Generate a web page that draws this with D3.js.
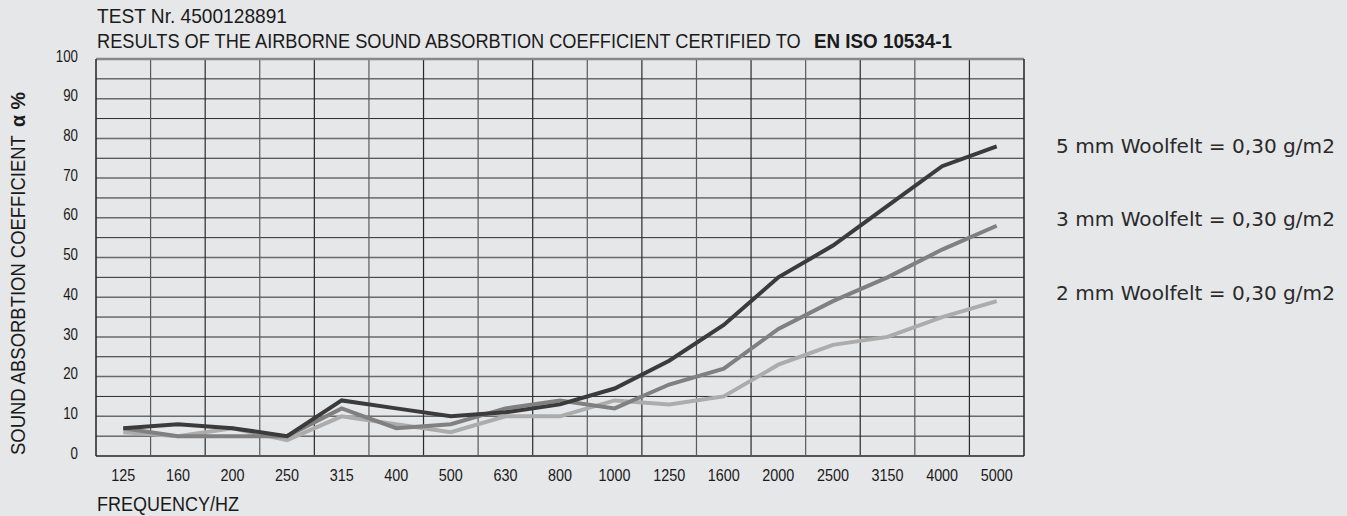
<!DOCTYPE html>
<html>
<head>
<meta charset="utf-8">
<script src="https://cdn.jsdelivr.net/npm/d3@7"></script>
<style>
  html, body { margin: 0; padding: 0; background: #e6e7e9; }
  svg { display: block; }
  .cond { font-family: 'Liberation Sans', Arial, sans-serif; fill: #1a1a1a; }
</style>
</head>
<body>
<script>
var freqs = ['125', '160', '200', '250', '315', '400', '500', '630', '800', '1000', '1250', '1600', '2000', '2500', '3150', '4000', '5000']
var yTicks = [0, 10, 20, 30, 40, 50, 60, 70, 80, 90, 100]

var felt5 = [7, 8, 7, 5, 14, 12, 10, 11, 13, 17, 24, 33, 45, 53, 63, 73, 78]
var felt3 = [7, 5, 5, 5, 12, 7, 8, 12, 14, 12, 18, 22, 32, 39, 45, 52, 58]
var felt2 = [6, 5, 7, 4, 10, 8, 6, 10, 10, 14, 13, 15, 23, 28, 30, 35, 39]

var seriesNames = ['5 mm Woolfelt = 0,30 g/m2', '3 mm Woolfelt = 0,30 g/m2', '2 mm Woolfelt = 0,30 g/m2']

var width = 1347, height = 516
var margin = {left: 96, top: 59, right: 323, bottom: 60}

var svg = d3.select('body').append('svg')
  .attr('width', width).attr('height', height)

var x = d3.scaleBand().domain(freqs).range([margin.left, width - margin.right]).padding(0)
var y = d3.scaleLinear().domain([0, 100]).range([height - margin.bottom, margin.top])

// place a text at (px, py) and squeeze it horizontally to width w (the original uses a condensed face)
function label(parent, px, py, w, txt, size, opts){
  opts = opts || {}
  var t = parent.append('text').attr('class', 'cond')
    .attr('text-anchor', opts.anchor || 'start')
    .attr('dy', opts.dy || null)
    .style('font-size', size + 'px')
    .style('font-weight', opts.bold ? 'bold' : null)
    .text(txt)
  if (opts.family) t.style('font-family', opts.family)
  if (opts.fill) t.style('fill', opts.fill)
  var nat = t.node().getComputedTextLength()
  t.attr('transform', 'translate(' + px + ',' + py + ') scale(' + (w / nat) + ',1)')
  return t
}

// grid
var grid = svg.append('g')
grid.selectAll('line.h').data(d3.range(5, 100, 5)).enter().append('line')
  .attr('x1', x.range()[0]).attr('x2', x.range()[1])
  .attr('y1', function(d){ return y(d) }).attr('y2', function(d){ return y(d) })
  .style('stroke', function(d){ return d % 10 ? '#2a2a2a' : '#6a6a6a' })
  .style('stroke-width', function(d){ return d % 10 ? 1 : 1.5 })

grid.selectAll('line.v').data(freqs.slice(1)).enter().append('line')
  .attr('x1', function(d){ return x(d) }).attr('x2', function(d){ return x(d) })
  .attr('y1', y(0)).attr('y2', y(100))
  .style('stroke', function(d, i){ return i % 2 ? '#2a2a2a' : '#5a5a5a' })
  .style('stroke-width', 1.2)

// frame
svg.append('line').attr('x1', x.range()[0]).attr('x2', x.range()[1]).attr('y1', y(100)).attr('y2', y(100))
  .style('stroke', '#888').style('stroke-width', 2.5)
svg.append('line').attr('x1', x.range()[0]).attr('x2', x.range()[1]).attr('y1', y(0)).attr('y2', y(0))
  .style('stroke', '#555').style('stroke-width', 2)
svg.append('line').attr('x1', x.range()[0]).attr('x2', x.range()[0]).attr('y1', y(0)).attr('y2', y(100))
  .style('stroke', '#222').style('stroke-width', 1.5)
svg.append('line').attr('x1', x.range()[1]).attr('x2', x.range()[1]).attr('y1', y(0)).attr('y2', y(100))
  .style('stroke', '#222').style('stroke-width', 1.5)

// axes labels
var yl = svg.append('g')
yTicks.forEach(function(d){
  label(yl, 78, y(d) - 3, String(d).length * 7.4, String(d), 16, {anchor: 'end', dy: '0.35em'})
})

var xl = svg.append('g')
freqs.forEach(function(d){
  label(xl, x(d) + x.bandwidth() / 2, 481, d.length * 8, d, 17, {anchor: 'middle'})
})

label(svg, 97, 511, 142, 'FREQUENCY/HZ', 21)

var yt = svg.append('g').attr('transform', 'translate(25,455) rotate(-90)')
label(yt, 0, 0, 320, 'SOUND ABSORBTION COEFFICIENT', 20)
label(yt, 328, 0, 35, 'α %', 20, {bold: true})

// titles
label(svg, 97, 23, 190, 'TEST Nr. 4500128891', 21)
label(svg, 97, 48, 704, 'RESULTS OF THE AIRBORNE SOUND ABSORBTION COEFFICIENT CERTIFIED TO', 21)
label(svg, 814, 48, 138, 'EN ISO 10534-1', 21, {bold: true})

// lines
var line = d3.line()
  .x(function(d, i){ return x(freqs[i]) + x.bandwidth() / 2 })
  .y(function(d){ return y(d) })

var series = [felt2, felt3, felt5]
var colors = ['#acacac', '#808080', '#3b3b3b']

svg.append('g').selectAll('path').data(series).enter().append('path')
  .attr('d', line)
  .style('fill', 'none')
  .style('stroke', function(d, i){ return colors[i] })
  .style('stroke-width', 4)
  .style('stroke-linejoin', 'miter')

// legend
var lg = svg.append('g')
seriesNames.forEach(function(d, i){
  label(lg, 1056, 146 + i * 73.5, 279, d, 19,
    {dy: '0.35em', family: "'DejaVu Sans', 'Noto Sans', sans-serif", fill: '#2a2a2a'})
})
</script>
</body>
</html>
